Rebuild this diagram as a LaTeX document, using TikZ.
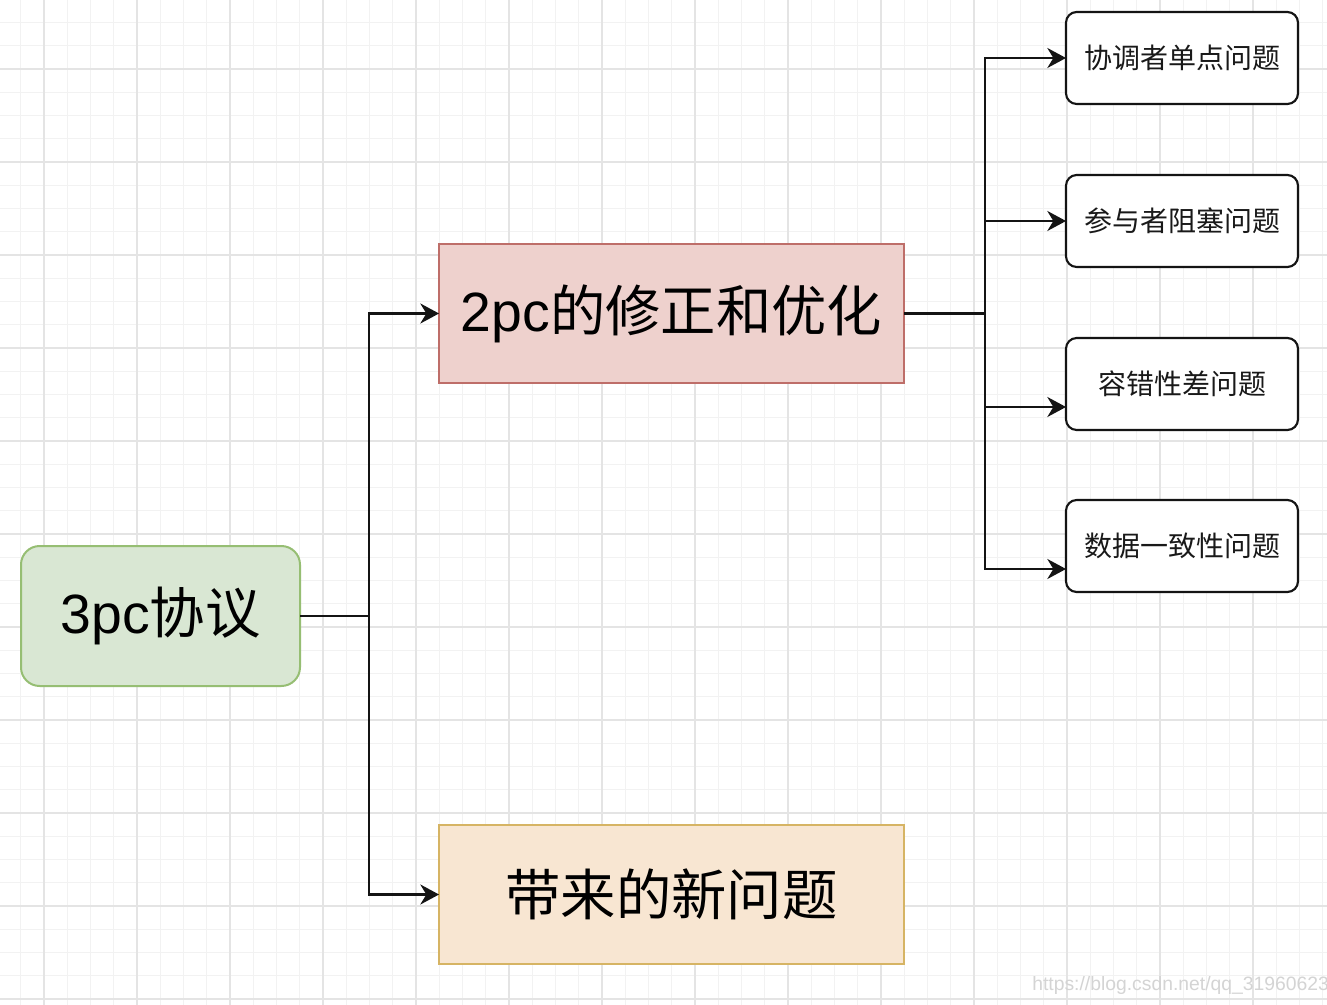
\documentclass[tikz,border=0pt]{standalone}
\usepackage{fontspec}
\newfontfamily\cjk{Noto Sans CJK SC}
\newfontfamily\lat{Liberation Sans}
\newfontfamily\wmfont{Liberation Sans}
\usetikzlibrary{arrows.meta,calc}
\definecolor{gridminor}{RGB}{242,242,242}
\definecolor{gridmajor}{RGB}{228,228,228}
\definecolor{greenfill}{RGB}{217,231,211}
\definecolor{greenline}{RGB}{150,190,115}
\definecolor{redfill}{RGB}{238,209,205}
\definecolor{redline}{RGB}{190,110,105}
\definecolor{orangefill}{RGB}{248,230,210}
\definecolor{orangeline}{RGB}{214,180,100}
\definecolor{linecol}{RGB}{20,20,20}
\tikzset{
  bigbox/.style={draw, line width=1.5pt, minimum width=348.75pt, minimum height=104.25pt, inner sep=0pt, outer sep=0pt, font=\cjk\fontsize{41.5}{46}\selectfont},
  rootbox/.style={bigbox, rounded corners=14pt, minimum width=209.25pt, minimum height=105pt, fill=greenfill, draw=greenline},
  smallbox/.style={draw=linecol, line width=1.6pt, rounded corners=8pt, fill=white, minimum width=174pt, minimum height=69pt, inner sep=0pt, outer sep=0pt, font=\cjk\fontsize{21}{25}\selectfont, text=black!90},
  conn/.style={draw=linecol, line width=1.8pt},
  arr/.style={conn, -{Stealth[length=14pt,width=15pt,inset=4.5pt]}},
}
\begin{document}
\begin{tikzpicture}[x=0.75pt,y=-0.75pt]
\useasboundingbox (0,0) rectangle (1327,1005);
\fill[white] (0,0) rectangle (1327,1005);
\begin{scope}
\clip (0,0) rectangle (1327,1005);
\foreach \i in {0,...,57} { \draw[gridminor, line width=0.9pt] (20.75+23.25*\i,0) -- (20.75+23.25*\i,1005); }
\foreach \i in {0,...,44} { \draw[gridminor, line width=0.9pt] (0,22.5+23.25*\i) -- (1327,22.5+23.25*\i); }
\foreach \i in {0,...,14} { \draw[gridmajor, line width=1pt] (44+93*\i,0) -- (44+93*\i,1005); }
\foreach \i in {0,...,10} { \draw[gridmajor, line width=1pt] (0,69+93*\i) -- (1327,69+93*\i); }
\node[anchor=base west, font=\wmfont\fontsize{14.5}{16}\selectfont, text=black!17, inner sep=0pt] (wm) at (1032,990) {https://blog.csdn.net/qq\_31960623};
\end{scope}

\node[rootbox] (root) at (160.5,616) {{\lat 3pc}协议};
\node[bigbox, fill=redfill, draw=redline] (fix) at (671.5,313.5) {{\lat 2pc}的修正和优化};
\node[bigbox, fill=orangefill, draw=orangeline] (newp) at (671.5,894.5) {带来的新问题};

\node[smallbox] (b1) at (1182,58) {协调者单点问题};
\node[smallbox] (b2) at (1182,221) {参与者阻塞问题};
\node[smallbox] (b3) at (1182,384) {容错性差问题};
\node[smallbox] (b4) at (1182,546) {数据一致性问题};

\draw[conn] (root.east) -- (369,616) coordinate (j1);
\draw[arr] (j1) |- (fix.west);
\draw[arr] (j1) |- (newp.west);

\draw[conn] (fix.east) -- (985,313.5) coordinate (j2);
\draw[arr] (j2) |- (b1.west);
\draw[arr] (j2) |- (b2.west);
\draw[arr] (j2) |- ($(b3.west)+(0,23)$);
\draw[arr] (j2) |- ($(b4.west)+(0,23)$);
\end{tikzpicture}
\end{document}
